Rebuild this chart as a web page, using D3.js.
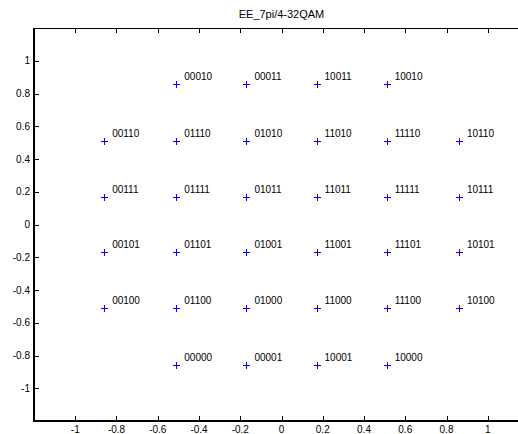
<!DOCTYPE html>
<html><head><meta charset="utf-8">
<script src="https://cdn.jsdelivr.net/npm/d3@7"></script>
<style>body{margin:0;background:#fff}svg{display:block}text{font-family:"Liberation Sans",Arial,sans-serif;fill:#000}</style>
</head><body>
<script>
const title = "EE_7pi/4-32QAM";
const xs = [-0.86, -0.51, -0.17, 0.17, 0.51, 0.86, -0.51, -0.17, 0.17, 0.51, -0.86, -0.51, -0.17, 0.17, 0.51, 0.86, -0.86, -0.51, -0.17, 0.17, 0.51, 0.86, -0.86, -0.51, -0.17, 0.17, 0.51, 0.86, -0.51, -0.17, 0.17, 0.51];
const ys = [0.51, 0.51, 0.51, 0.51, 0.51, 0.51, 0.86, 0.86, 0.86, 0.86, 0.17, 0.17, 0.17, 0.17, 0.17, 0.17, -0.17, -0.17, -0.17, -0.17, -0.17, -0.17, -0.51, -0.51, -0.51, -0.51, -0.51, -0.51, -0.86, -0.86, -0.86, -0.86];
const labels = ["00110","01110","01010","11010","11110","10110","00010","00011","10011","10010","00111","01111","01011","11011","11111","10111","00101","01101","01001","11001","11101","10101","00100","01100","01000","11000","11100","10100","00000","00001","10001","10000"];
const xTicks = [-1, -0.8, -0.6, -0.4, -0.2, 0, 0.2, 0.4, 0.6, 0.8, 1];
const yTicks = [-1, -0.8, -0.6, -0.4, -0.2, 0, 0.2, 0.4, 0.6, 0.8, 1];

const W = 518, H = 434;
const svg = d3.select("body").append("svg").attr("width", W).attr("height", H);
const x = d3.scaleLinear().domain([-1.2, 1.2]).range([34, 529]);
const y = d3.scaleLinear().domain([-1.2, 1.2]).range([421, 28]);

const fmt = d => (Math.abs(d) < 1e-9 ? "0" : String(+d.toFixed(1)));

// ticks (inward)
const g = svg.append("g");
g.selectAll(".xb").data(xTicks).join("line")
  .attr("x1", d => Math.round(x(d)) + 0.5).attr("x2", d => Math.round(x(d)) + 0.5)
  .attr("y1", 421).attr("y2", 416).attr("stroke", "#000");
g.selectAll(".xt").data(xTicks).join("line")
  .attr("x1", d => Math.round(x(d)) + 0.5).attr("x2", d => Math.round(x(d)) + 0.5)
  .attr("y1", 28).attr("y2", 33).attr("stroke", "#000");
g.selectAll(".yl").data(yTicks).join("line")
  .attr("y1", d => Math.round(y(d)) + 0.5).attr("y2", d => Math.round(y(d)) + 0.5)
  .attr("x1", 34).attr("x2", 39).attr("stroke", "#000");

// frame
svg.append("line").attr("x1", 33).attr("x2", 518).attr("y1", 28.5).attr("y2", 28.5).attr("stroke", "#000");
svg.append("line").attr("x1", 34).attr("x2", 34).attr("y1", 28).attr("y2", 422).attr("stroke", "#000").attr("stroke-width", 2);
svg.append("line").attr("x1", 33).attr("x2", 518).attr("y1", 421).attr("y2", 421).attr("stroke", "#000").attr("stroke-width", 2);

// tick labels
svg.selectAll(".xtl").data(xTicks).join("text")
  .attr("x", d => x(d)).attr("y", 433).attr("text-anchor", "middle")
  .attr("font-size", 10).text(fmt);
svg.selectAll(".ytl").data(yTicks).join("text")
  .attr("x", 30).attr("y", d => y(d) + 3.5).attr("text-anchor", "end")
  .attr("font-size", 10).text(fmt);

// title
svg.append("text").attr("x", x(0)).attr("y", 18).attr("text-anchor", "middle")
  .attr("font-size", 11).text(title);

// markers
const pts = xs.map((v, i) => ({x: v, y: ys[i], label: labels[i]}));
const m = svg.append("g");
m.selectAll("path").data(pts).join("path")
  .attr("d", d => {
    const cx = Math.round(x(d.x)) + 0.5, cy = Math.round(y(d.y)) + 0.5;
    return `M${cx - 3.5},${cy}H${cx + 3.5}M${cx},${cy - 3.5}V${cy + 3.5}`;
  })
  .attr("stroke", "#0000ff").attr("fill", "none").attr("stroke-width", 1);
m.selectAll("text").data(pts).join("text")
  .attr("x", d => x(d.x) + 8).attr("y", d => y(d.y) - 4)
  .attr("font-size", 10).text(d => d.label);
</script>
</body></html>
